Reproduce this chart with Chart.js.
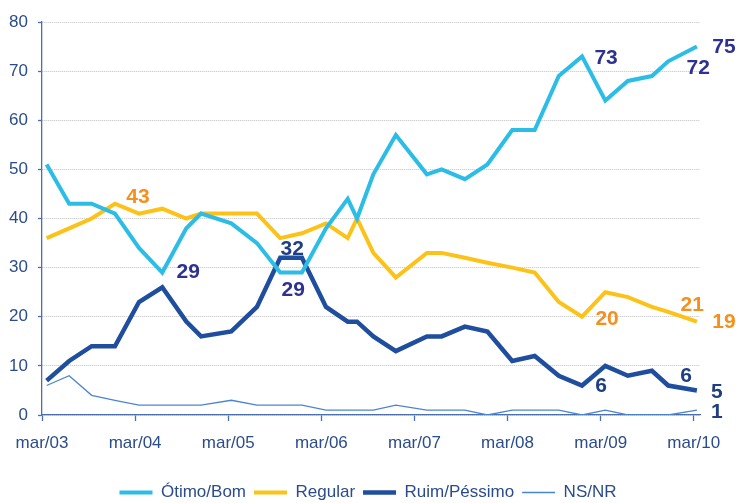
<!DOCTYPE html>
<html><head><meta charset="utf-8">
<script src="https://cdn.jsdelivr.net/npm/chart.js@4/dist/chart.umd.min.js"></script>
<style>html,body{margin:0;padding:0;background:#fff}#wrap{width:736px;height:503px}</style>
</head><body><div id="wrap"><canvas id="c" width="736" height="503"></canvas></div>
<script>
// months after the "mar/03" tick for each survey
const months = [0.6, 3.5, 6.4, 9.4, 12.5, 15.5, 18.6, 20.5, 24.4, 27.7, 30.7, 33.5, 36.6, 39.4, 40.6, 42.7, 45.6, 49.6, 51.5, 54.5, 57.4, 60.6, 63.5, 66.6, 69.6, 72.6, 75.5, 78.6, 80.7, 84.4];
const tickMonths = [0, 12, 24, 36, 48, 60, 72, 84];
const tickLabels = ['mar/03', 'mar/04', 'mar/05', 'mar/06', 'mar/07', 'mar/08', 'mar/09', 'mar/10'];
const seriesNames = ['Ótimo/Bom', 'Regular', 'Ruim/Péssimo', 'NS/NR'];
const otimoBom = [51, 43, 43, 41, 34, 29, 38, 41, 39, 35, 29, 29, 38, 44, 40, 49, 57, 49, 50, 48, 51, 58, 58, 69, 73, 64, 68, 69, 72, 75];
const regular = [36, 38, 40, 43, 41, 42, 40, 41, 41, 41, 36, 37, 39, 36, 40, 33, 28, 33, 33, 32, 31, 30, 29, 23, 20, 25, 24, 22, 21, 19];
const ruimPessimo = [7, 11, 14, 14, 23, 26, 19, 16, 17, 22, 32, 32, 22, 19, 19, 16, 13, 16, 16, 18, 17, 11, 12, 8, 6, 10, 8, 9, 6, 5];
const nsnr = [6, 8, 4, 3, 2, 2, 2, 2, 3, 2, 2, 2, 1, 1, 1, 1, 2, 1, 1, 1, 0, 1, 1, 1, 0, 1, 0, 0, 0, 1];

const allSeries = [otimoBom, regular, ruimPessimo, nsnr];
const lineColors = ['#2CBDE6', '#FDC217', '#1F4E9E', '#4A86CF'];
const lineWidths = [4, 4, 4.5, 1.3];
const axisColor = '#4C6FB0';
const textColor = '#2B4C8C';
const ORANGE = '#F5901E', INDIGO = '#2E3192', NAVY = '#1F3F82';
const FONT = '"Liberation Sans", Arial, sans-serif';

// value labels: which point, label colour, offset from the point
const valueLabels = [
  {s: 1, i: 3, c: ORANGE, dx: 23, dy: -7},
  {s: 0, i: 5, c: INDIGO, dx: 26, dy: 0},
  {s: 2, i: 10, c: NAVY, dx: 12, dy: -9},
  {s: 0, i: 10, c: INDIGO, dx: 13, dy: 18},
  {s: 0, i: 24, c: INDIGO, dx: 24, dy: 2},
  {s: 0, i: 28, c: INDIGO, dx: 30, dy: 7},
  {s: 0, i: 29, c: INDIGO, dx: 27, dy: 1},
  {s: 1, i: 24, c: ORANGE, dx: 25, dy: 2},
  {s: 1, i: 28, c: ORANGE, dx: 24, dy: -7},
  {s: 1, i: 29, c: ORANGE, dx: 27, dy: 1},
  {s: 2, i: 24, c: NAVY, dx: 19, dy: 1},
  {s: 2, i: 28, c: NAVY, dx: 18, dy: -9},
  {s: 2, i: 29, c: NAVY, dx: 20, dy: 2},
  {s: 3, i: 29, c: NAVY, dx: 20, dy: 2}
];

const labelPlugin = {
  id: 'valueLabels',
  afterDatasetsDraw(chart) {
    const ctx = chart.ctx;
    ctx.save();
    ctx.font = 'bold 21px ' + FONT;
    ctx.textAlign = 'center';
    ctx.textBaseline = 'middle';
    valueLabels.forEach(l => {
      const el = chart.getDatasetMeta(l.s).data[l.i];
      ctx.fillStyle = l.c;
      ctx.fillText(String(allSeries[l.s][l.i]), el.x + l.dx, el.y + l.dy);
    });
    ctx.restore();
  }
};

const datasets = allSeries.map((arr, k) => ({
  label: seriesNames[k],
  data: arr.map((v, j) => ({x: months[j], y: v})),
  borderColor: lineColors[k],
  backgroundColor: lineColors[k],
  borderWidth: lineWidths[k],
  pointRadius: 0,
  tension: 0,
  borderJoinStyle: 'miter',
  borderCapStyle: 'butt',
  order: k
}));

new Chart(document.getElementById('c'), {
  type: 'line',
  data: {datasets},
  options: {
    responsive: false,
    animation: false,
    devicePixelRatio: 1,
    layout: {padding: {left: 0, right: 0, top: 22, bottom: -8}},
    plugins: {
      tooltip: {enabled: false},
      legend: {
        position: 'bottom',
        labels: {
          usePointStyle: true,
          pointStyle: 'line',
          pointStyleWidth: 33,
          padding: 8,
          color: textColor,
          font: {size: 17, family: FONT}
        }
      }
    },
    scales: {
      x: {
        type: 'linear',
        min: 0,
        max: 84.8,
        afterBuildTicks: s => { s.ticks = tickMonths.map(v => ({value: v})); },
        afterFit: s => { s.height = 61; },
        ticks: {
          callback: v => tickLabels[tickMonths.indexOf(v)],
          color: textColor,
          padding: 12,
          maxRotation: 0,
          autoSkip: false,
          font: {size: 17, family: FONT}
        },
        grid: {drawOnChartArea: false, drawTicks: true, tickLength: 6, color: axisColor, tickColor: axisColor, tickWidth: 1.3},
        border: {color: axisColor, width: 1.3}
      },
      y: {
        min: 0,
        max: 80,
        afterFit: s => { s.width = 42; },
        ticks: {
          stepSize: 10,
          color: textColor,
          padding: 10,
          font: {size: 17, family: FONT}
        },
        grid: {color: '#c0c0c0', lineWidth: 1, tickLength: 4, tickColor: axisColor, tickWidth: 1.3},
        border: {color: axisColor, width: 1.3, dash: [1, 1]}
      },
      spacer: {
        type: 'linear',
        position: 'right',
        display: true,
        afterFit: s => { s.width = 36; },
        ticks: {display: false},
        grid: {display: false, drawTicks: false},
        border: {display: false}
      }
    }
  },
  plugins: [labelPlugin]
});
</script>
</body></html>
